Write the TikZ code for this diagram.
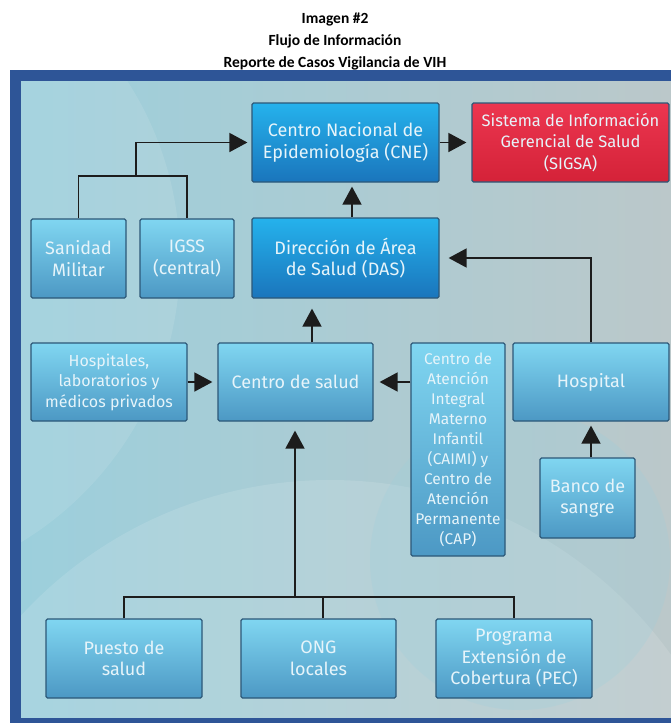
\documentclass[tikz,border=0pt]{standalone}
\usepackage{fontspec}
\setmainfont{Fira Sans}
\newfontfamily\titlefont{Carlito}
\usetikzlibrary{arrows.meta}

\definecolor{marco}{HTML}{2E5597}
\definecolor{fondoA}{HTML}{9CCFDC}
\definecolor{fondoB}{HTML}{BBC8CA}
\definecolor{cajaTop}{HTML}{80D6F1}
\definecolor{cajaBot}{HTML}{4C98C4}
\definecolor{borde}{HTML}{2C5878}
\definecolor{fuerteTop}{HTML}{25B2EC}
\definecolor{fuerteBot}{HTML}{1A75BC}
\definecolor{rojoTop}{HTML}{EC3650}
\definecolor{rojoBot}{HTML}{D42238}
\definecolor{letra}{HTML}{E6F4FA}
\definecolor{linea}{HTML}{1C1C1C}

\tikzset{
    caja/.style={draw=borde, line width=1.2pt, rounded corners=1.5pt,
        top color=cajaTop, bottom color=cajaBot, text=letra, align=center,
        font=\fontsize{18}{21.5}\selectfont, inner sep=1pt},
    cajafuerte/.style={caja, top color=fuerteTop, bottom color=fuerteBot},
    cajaroja/.style={caja, top color=rojoTop, bottom color=rojoBot},
    flecha/.style={draw=linea, line width=1.6pt, -{Triangle[length=18pt,width=19pt]}},
    enlace/.style={draw=linea, line width=1.4pt}
}

\begin{document}
\begin{tikzpicture}[x=1pt, y=-1pt]
            \useasboundingbox (0,0) rectangle (671,723);

            % marco y fondo
            \fill[marco] (10,70) rectangle (671,723);
            \shade[left color=fondoA, right color=fondoB] (21,81) rectangle (671,717);
            \begin{scope}
                \clip (21,81) rectangle (671,717);
                \fill[white, opacity=0.12] (330,900) circle (420);
                \fill[white, opacity=0.10] (-150,260) circle (330);
                \fill[fondoA, opacity=0.25] (520,560) circle (150);
            \end{scope}

            \node[font=\titlefont\bfseries\fontsize{15.5}{22}\selectfont, align=center] (titulo) at (335,42)
                {Imagen \#2\\Flujo de Información\\Reporte de Casos Vigilancia de VIH};

            \node[cajafuerte, minimum width=187, minimum height=79] (cne) at (345.5,142.5) {Centro Nacional de\\Epidemiología (CNE)};
            \node[cajaroja, minimum width=197, minimum height=79, font=\fontsize{16.5}{21.5}\selectfont] (sigsa) at (570.5,142.5) {Sistema de Información\\Gerencial de Salud\\(SIGSA)};
            \node[caja, minimum width=95, minimum height=79] (sanidad) at (78.5,258.5) {Sanidad\\Militar};
            \node[caja, minimum width=94, minimum height=79] (igss) at (187,258.5) {IGSS\\(central)};
            \node[cajafuerte, minimum width=187, minimum height=80] (das) at (345.5,258) {Dirección de Área\\de Salud (DAS)};

            \node[caja, minimum width=156, minimum height=78, font=\fontsize{16}{20.5}\selectfont] (privados) at (109,382) {Hospitales,\\laboratorios y\\médicos privados};
            \node[caja, minimum width=155, minimum height=78] (csalud) at (295.5,382) {Centro de salud};
            \node[caja, minimum width=94, minimum height=213, font=\fontsize{15.5}{20}\selectfont] (caimi) at (458,449.5)
                {Centro de\\Atención\\Integral\\Materno\\Infantil\\(CAIMI) y\\Centro de\\Atención\\Permanente\\(CAP)};
            \node[caja, minimum width=156, minimum height=78] (hospital) at (591,382) {Hospital};
            \node[caja, minimum width=95, minimum height=80] (banco) at (587.5,498) {Banco de\\sangre};

            \node[caja, minimum width=156, minimum height=79] (puesto) at (124,658.5) {Puesto de\\salud};
            \node[caja, minimum width=155, minimum height=79] (ong) at (318.5,658.5) {ONG\\locales};
            \node[caja, minimum width=156, minimum height=79] (pec) at (514,658.5) {Programa\\Extensión de\\Cobertura (PEC)};

            \coordinate (union) at (136,176);
            \coordinate (bus) at (295,597);

            \draw[enlace] (sanidad.north) |- (union) -| (igss.north);
            \draw[flecha, shorten >=4pt] (union) |- (cne.west);
            \draw[flecha, shorten >=5pt] (cne.east) -- (sigsa.west);
            \draw[flecha, shorten >=4pt] ([xshift=6.5]das.north) -- ([xshift=6.5]cne.south);
            \draw[flecha, shorten >=9pt] (hospital.north) |- (das.east);
            \draw[flecha, shorten >=10pt] ([xshift=16.5]csalud.north) -- ([xshift=16.5]csalud.north |- das.south);
            \draw[flecha, shorten >=5pt] (privados.east) -- (csalud.west);
            \draw[flecha, shorten >=6pt] (caimi.west |- csalud.east) -- (csalud.east);
            \draw[flecha, shorten >=4pt] (banco.north -| hospital.south) -- (hospital.south);

            \draw[enlace] (puesto.north) |- (bus) -| (pec.north);
            \draw[enlace] ([xshift=4.5]ong.north) -- ([xshift=4.5]ong.north |- bus);
            \draw[flecha, shorten >=9pt] (bus) -- (bus |- csalud.south);
\end{tikzpicture}
\end{document}
